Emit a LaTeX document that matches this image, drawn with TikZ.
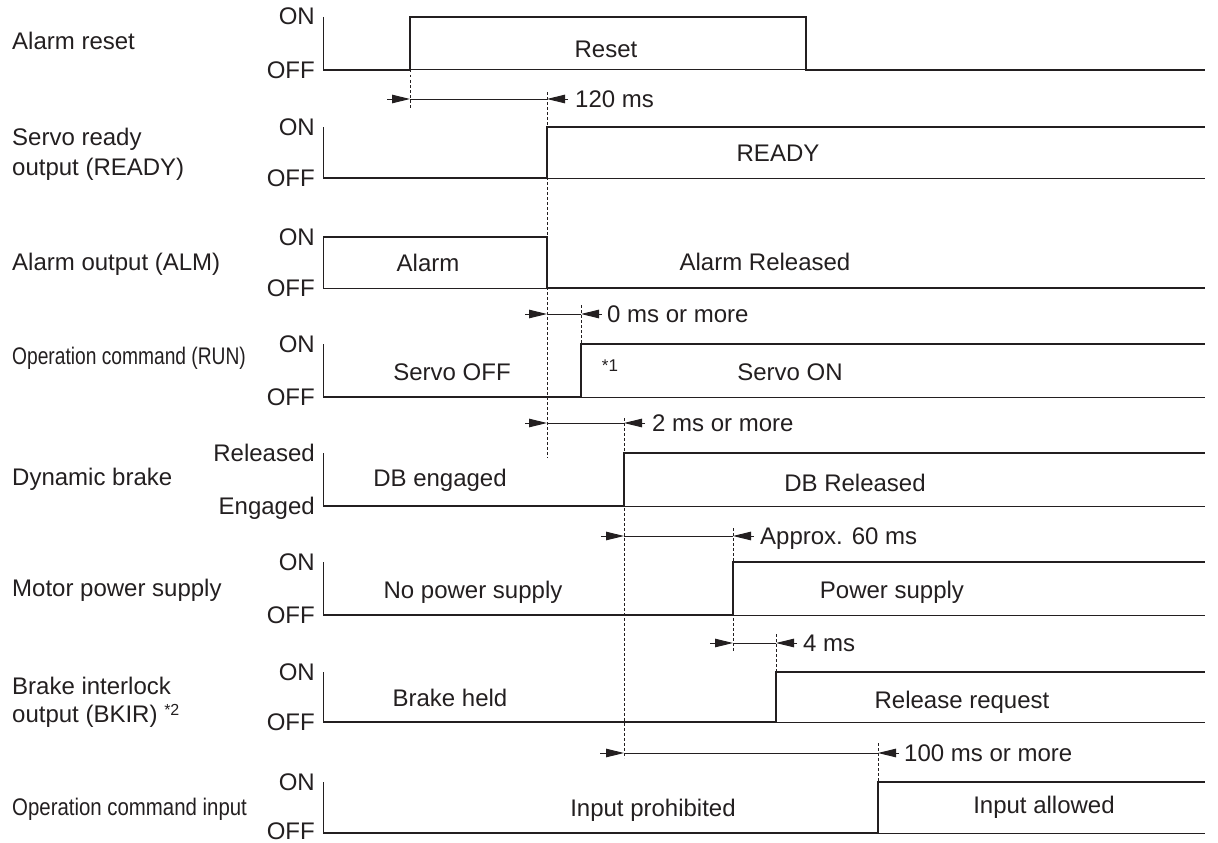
\documentclass[tikz,border=0pt]{standalone}
\usepackage{fontspec}
\setmainfont{Liberation Sans}
\usetikzlibrary{arrows.meta}
\definecolor{ink}{HTML}{231F20}
\begin{document}
\begin{tikzpicture}[x=1pt,y=-1pt,
  every node/.style={font=\fontsize{24}{27}\selectfont, text=ink, inner sep=0pt},
  axisline/.style={line width=1pt, draw=ink},
  wave/.style={line width=2.6pt, draw=ink, line join=miter},
  guide/.style={line width=0.9pt, dash pattern=on 2.5pt off 2.5pt, draw=ink},
  dimline/.style={line width=1pt, draw=ink},
  tipline/.style={-{Triangle[length=18pt,width=8.5pt]}, line width=1pt, draw=ink},
  lvl/.style={anchor=base east},
  sig/.style={anchor=base west},
  inlab/.style={anchor=base},
  dimlab/.style={anchor=base west},
  note/.style={font=\fontsize{17}{19}\selectfont},
]
\useasboundingbox (0,0) rectangle (1218,843);

% ---------- Row 1: Alarm reset
\node[sig] (n1) at (12,50) {Alarm reset};
\node[lvl] (on1) at (315,25) {ON};
\node[lvl] (off1) at (315,78) {OFF};
\draw[axisline] (323,17) -- (323,70) -- (1205,70);
\draw[wave] (323,70) -- (410,70) -- (410,17) -- (806,17) -- (806,70) -- (1205,70);
\node[inlab] (t1) at (606,58) {Reset};

% ---------- Row 2: Servo ready
\node[sig] (n2a) at (12,145) {Servo ready};
\node[sig] (n2b) at (12,175) {output (READY)};
\node[lvl] (on2) at (315,135) {ON};
\node[lvl] (off2) at (315,186) {OFF};
\draw[axisline] (323,127) -- (323,178) -- (1205,178);
\draw[wave] (323,178) -- (547,178) -- (547,127) -- (1205,127);
\node[inlab] (t2) at (778,161) {READY};

% ---------- Row 3: Alarm output
\node[sig] (n3) at (12,270) {Alarm output (ALM)};
\node[lvl] (on3) at (315,245) {ON};
\node[lvl] (off3) at (315,296) {OFF};
\draw[axisline] (323,237) -- (323,288) -- (1205,288);
\draw[wave] (323,237) -- (547,237) -- (547,288) -- (1205,288);
\node[inlab] (t3a) at (428,271) {Alarm};
\node[inlab] (t3b) at (765,270) {Alarm Released};

% ---------- Row 4: Operation command (RUN)
\node[sig] (n4) at (12,364) {\scalebox{0.8}[1]{Operation command (RUN)}};
\node[lvl] (on4) at (315,352) {ON};
\node[lvl] (off4) at (315,405) {OFF};
\draw[axisline] (323,344) -- (323,397) -- (1205,397);
\draw[wave] (323,397) -- (581,397) -- (581,344) -- (1205,344);
\node[inlab] (t4a) at (452,380) {Servo OFF};
\node[inlab, note] (t4s) at (610,371) {*1};
\node[inlab] (t4b) at (790,380) {Servo ON};

% ---------- Row 5: Dynamic brake
\node[sig] (n5) at (12,485) {Dynamic brake};
\node[lvl] (on5) at (315,461) {Released};
\node[lvl] (off5) at (315,514) {Engaged};
\draw[axisline] (323,453) -- (323,506) -- (1205,506);
\draw[wave] (323,506) -- (624,506) -- (624,453) -- (1205,453);
\node[inlab] (t5a) at (440,486) {DB engaged};
\node[inlab] (t5b) at (855,491) {DB Released};

% ---------- Row 6: Motor power supply
\node[sig] (n6) at (12,596) {Motor power supply};
\node[lvl] (on6) at (315,570) {ON};
\node[lvl] (off6) at (315,623) {OFF};
\draw[axisline] (323,562) -- (323,615) -- (1205,615);
\draw[wave] (323,615) -- (733,615) -- (733,562) -- (1205,562);
\node[inlab] (t6a) at (473,598) {No power supply};
\node[inlab] (t6b) at (892,598) {Power supply};

% ---------- Row 7: Brake interlock output
\node[sig] (n7a) at (12,694) {Brake interlock};
\node[sig] (n7b) at (12,722) {output (BKIR) \raisebox{7pt}{\fontsize{16}{18}\selectfont *2}};
\node[lvl] (on7) at (315,680) {ON};
\node[lvl] (off7) at (315,730) {OFF};
\draw[axisline] (323,672) -- (323,722) -- (1205,722);
\draw[wave] (323,722) -- (776,722) -- (776,672) -- (1205,672);
\node[inlab] (t7a) at (450,706) {Brake held};
\node[inlab] (t7b) at (962,708) {Release request};

% ---------- Row 8: Operation command input
\node[sig] (n8) at (12,815) {\scalebox{0.85}[1]{Operation command input}};
\node[lvl] (on8) at (315,790) {ON};
\node[lvl] (off8) at (315,839) {OFF};
\draw[axisline] (323,782) -- (323,833) -- (1205,833);
\draw[wave] (323,833) -- (878,833) -- (878,782) -- (1205,782);
\node[inlab] (t8a) at (653,816) {Input prohibited};
\node[inlab] (t8b) at (1044,813) {Input allowed};

% ---------- Guide lines (dotted)
\draw[guide] (410,70) -- (410,108);
\draw[guide] (547,92) -- (547,458);
\draw[guide] (581,305) -- (581,344);
\draw[guide] (624,418) -- (624,758);
\draw[guide] (733,528) -- (733,652);
\draw[guide] (776,634) -- (776,672);
\draw[guide] (878,743) -- (878,782);

% ---------- Dimensions
% 120 ms
\coordinate (d1a) at (410,99); \coordinate (d1b) at (547,99);
\draw[tipline] (387,99) -- (d1a);
\draw[dimline] (d1a) -- (d1b);
\draw[tipline] (568,99) -- (d1b);
\node[dimlab] (l1) at (575,107) {120 ms};
% 0 ms or more
\coordinate (d2a) at (547,314); \coordinate (d2b) at (581,314);
\draw[tipline] (525,314) -- (d2a);
\draw[dimline] (d2a) -- (d2b);
\draw[tipline] (602,314) -- (d2b);
\node[dimlab] (l2) at (607,322) {0 ms or more};
% 2 ms or more
\coordinate (d3a) at (547,423); \coordinate (d3b) at (624,423);
\draw[tipline] (525,423) -- (d3a);
\draw[dimline] (d3a) -- (d3b);
\draw[tipline] (645,423) -- (d3b);
\node[dimlab] (l3) at (652,431) {2 ms or more};
% Approx. 60 ms
\coordinate (d4a) at (624,536); \coordinate (d4b) at (733,536);
\draw[tipline] (601,536) -- (d4a);
\draw[dimline] (d4a) -- (d4b);
\draw[tipline] (754,536) -- (d4b);
\node[dimlab] (l4) at (760,544) {Approx. 60 ms};
% 4 ms
\coordinate (d5a) at (733,643); \coordinate (d5b) at (776,643);
\draw[tipline] (710,643) -- (d5a);
\draw[dimline] (d5a) -- (d5b);
\draw[tipline] (797,643) -- (d5b);
\node[dimlab] (l5) at (803,651) {4 ms};
% 100 ms or more
\coordinate (d6a) at (624,753); \coordinate (d6b) at (878,753);
\draw[tipline] (600,753) -- (d6a);
\draw[dimline] (d6a) -- (d6b);
\draw[tipline] (899,753) -- (d6b);
\node[dimlab] (l6) at (904,761) {100 ms or more};
\end{tikzpicture}
\end{document}
